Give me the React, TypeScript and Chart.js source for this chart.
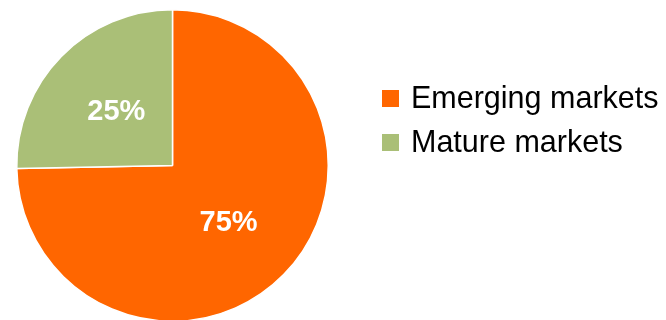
import React, { useEffect, useRef } from "react";
import { Chart, registerables } from "chart.js";

Chart.register(...registerables);

const categories = ["Emerging markets", "Mature markets"];
const shares = [74.7, 25.3];
const shareLabels = ["75%", "25%"];
const sliceColors = ["#FF6600", "#AABF77"];

const FONT = "'Liberation Sans', Arial, Helvetica, sans-serif";

const sliceLabelPlugin = {
  id: "sliceLabels",
  afterDatasetsDraw(chart: any) {
    const meta = chart.getDatasetMeta(0);
    const ctx = chart.ctx;
    ctx.save();
    ctx.fillStyle = "#FFFFFF";
    ctx.font = `bold 29px ${FONT}`;
    ctx.textAlign = "center";
    ctx.textBaseline = "middle";
    meta.data.forEach((arc: any, i: number) => {
      const p = arc.getProps(["x", "y", "startAngle", "endAngle", "outerRadius"], true);
      const mid = (p.startAngle + p.endAngle) / 2;
      const r = p.outerRadius * 0.505;
      ctx.fillText(shareLabels[i], p.x + Math.cos(mid) * r, p.y + Math.sin(mid) * r + 2);
    });
    ctx.restore();
  },
};

const sideLegendPlugin = {
  id: "sideLegend",
  afterDraw(chart: any) {
    const ctx = chart.ctx;
    const ds = chart.data.datasets[0];
    const left = chart.chartArea.right + 53;
    const top = 82;
    const rowGap = 44;
    const box = 17;
    ctx.save();
    ctx.font = `30.5px ${FONT}`;
    ctx.textBaseline = "alphabetic";
    ctx.textAlign = "left";
    (chart.data.labels as string[]).forEach((lab, i) => {
      const y = top + i * rowGap;
      ctx.fillStyle = ds.backgroundColor[i];
      ctx.fillRect(left, y, box, box);
      ctx.fillStyle = "#000000";
      ctx.fillText(lab, left + 29, y + 18);
    });
    ctx.restore();
  },
};

export default function App() {
  const ref = useRef<HTMLCanvasElement | null>(null);

  useEffect(() => {
    if (!ref.current) return;
    const chart = new Chart(ref.current, {
      type: "pie",
      data: {
        labels: categories,
        datasets: [
          {
            data: shares,
            backgroundColor: sliceColors,
            borderColor: "#FFFFFF",
            borderWidth: 1.5,
          },
        ],
      },
      options: {
        responsive: false,
        animation: false,
        layout: { padding: { top: 1, bottom: 16, left: 8, right: 337 } },
        plugins: {
          legend: { display: false },
          tooltip: { enabled: false },
        },
      },
      plugins: [sliceLabelPlugin, sideLegendPlugin],
    });
    return () => chart.destroy();
  }, []);

  return (
    <div style={{ width: 658, height: 312, marginRight: -8 }}>
      <canvas ref={ref} width={658} height={330} style={{ display: "block" }} />
    </div>
  );
}
